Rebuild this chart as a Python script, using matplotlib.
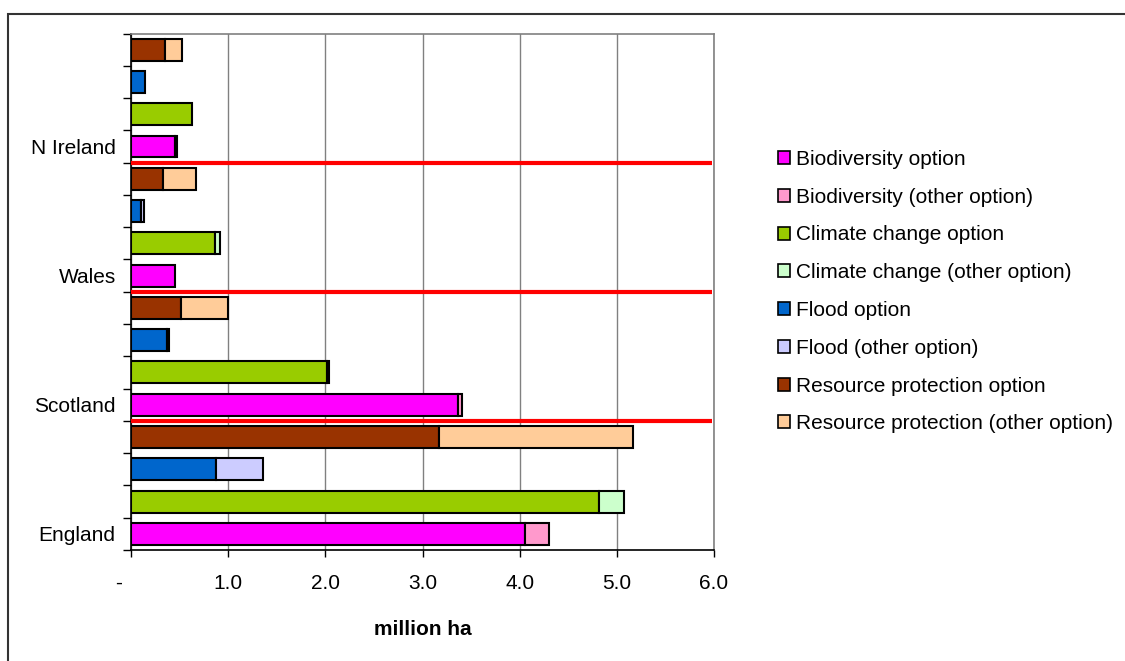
import matplotlib
matplotlib.use('Agg')
import matplotlib.pyplot as plt
import matplotlib.transforms as mtransforms
from matplotlib.patches import Patch, Rectangle

plt.rcParams['font.family'] = ['Liberation Sans', 'DejaVu Sans']

# Area (million ha) per country, main option and other option
regions = ['England', 'Scotland', 'Wales', 'N Ireland']
bio_option = [4.05, 3.37, 0.45, 0.45]
bio_other = [0.25, 0.04, 0.0, 0.02]
climate_option = [4.82, 2.02, 0.86, 0.63]
climate_other = [0.25, 0.02, 0.06, 0.0]
flood_option = [0.87, 0.37, 0.10, 0.14]
flood_other = [0.49, 0.02, 0.03, 0.0]
resource_option = [3.17, 0.51, 0.33, 0.35]
resource_other = [2.00, 0.49, 0.34, 0.18]

xticks = [0, 1, 2, 3, 4, 5, 6]
xtick_labels = ['-', '1.0', '2.0', '3.0', '4.0', '5.0', '6.0']

groups = [
    ('Biodiversity', bio_option, bio_other, '#FF00FF', '#FF99CC'),
    ('Climate change', climate_option, climate_other, '#99CC00', '#CCFFCC'),
    ('Flood', flood_option, flood_other, '#0066CC', '#CCCCFF'),
    ('Resource protection', resource_option, resource_other, '#993300', '#FFCC99'),
]

W, H = 1125, 661
fig = plt.figure(figsize=(W / 100, H / 100), dpi=100)
ax = fig.add_axes([131 / W, 111 / H, 583 / W, 516.5 / H])

n_groups = len(groups)
for i, reg in enumerate(regions):
    for k, (name, opt, oth, c1, c2) in enumerate(groups):
        y = i * n_groups + k
        ax.barh(y, opt[i], height=0.68, color=c1, edgecolor='black',
                linewidth=1.5, zorder=3)
        if oth[i] > 0:
            ax.barh(y, oth[i], left=opt[i], height=0.68, color=c2,
                    edgecolor='black', linewidth=1.5, zorder=3)

n_rows = len(regions) * n_groups
ax.set_ylim(-0.5, n_rows - 0.5)
ax.set_xlim(0, 6)

# red separators between countries
for i in range(1, len(regions)):
    b = i * n_groups - 0.5
    ax.plot([0, 5.98], [b, b], color='#FF0000', lw=3, zorder=5,
            solid_capstyle='butt')

# y axis: ticks on row boundaries, country names on the biodiversity rows
ax.set_yticks([r - 0.5 for r in range(n_rows + 1)])
ax.set_yticklabels([])
ax.set_yticks([i * n_groups for i in range(len(regions))], minor=True)
ax.set_yticklabels(regions, minor=True)
ax.tick_params(axis='y', which='major', direction='out', length=6,
               width=1, color='black')
ax.tick_params(axis='y', which='minor', length=0, pad=11, labelsize=15)

ax.set_xticks(xticks)
ax.set_xticklabels(xtick_labels)
ax.tick_params(axis='x', direction='out', length=5, width=1,
               color='black', pad=12, labelsize=15)
offset = mtransforms.ScaledTranslation(-12 / 100, 0, fig.dpi_scale_trans)
first = ax.get_xticklabels()[0]
first.set_transform(first.get_transform() + offset)

ax.set_xlabel('million ha', fontsize=15, fontweight='bold', labelpad=20)

ax.grid(axis='x', color='#808080', linewidth=1)
ax.set_axisbelow(True)
for side in ['top', 'right']:
    ax.spines[side].set_color('#808080')
    ax.spines[side].set_linewidth(1.2)
for side in ['left', 'bottom']:
    ax.spines[side].set_color('black')
    ax.spines[side].set_linewidth(1.2)

handles = []
for name, opt, oth, c1, c2 in groups:
    handles.append(Patch(facecolor=c1, edgecolor='black', linewidth=1.2,
                         label=name + ' option'))
    handles.append(Patch(facecolor=c2, edgecolor='black', linewidth=1.2,
                         label=name + ' (other option)'))
fig.legend(handles=handles, loc='upper left',
           bbox_to_anchor=(778 / W, (H - 150) / H), frameon=False,
           fontsize=15, handlelength=0.58, handleheight=0.58,
           handletextpad=0.3, labelspacing=0.9, borderpad=0,
           borderaxespad=0)

# chart border
fig.patches.append(Rectangle((8 / W, -0.1), 1.2, (H - 14) / H + 0.1,
                             transform=fig.transFigure, fill=False,
                             edgecolor='#333333', linewidth=1.5))

fig.savefig('out.png', dpi=100)
